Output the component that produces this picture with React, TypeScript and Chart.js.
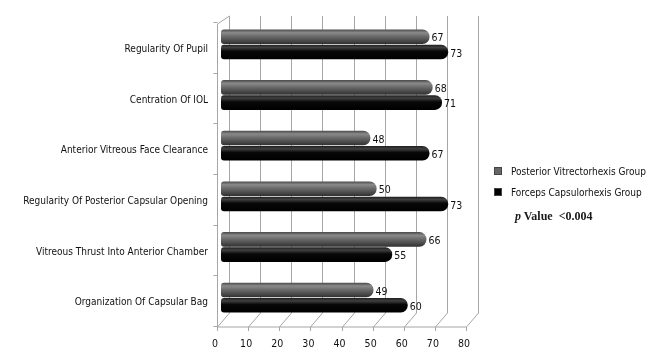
import React, { useEffect, useRef } from "react";
import { Chart, registerables } from "chart.js";

Chart.register(...registerables);

const categories = [
  "Regularity Of Pupil",
  "Centration Of IOL",
  "Anterior Vitreous Face Clearance",
  "Regularity Of Posterior Capsular Opening",
  "Vitreous Thrust Into Anterior Chamber",
  "Organization Of Capsular Bag",
];
const posteriorValues = [67, 68, 48, 50, 66, 49];
const forcepsValues = [73, 71, 67, 73, 55, 60];
const xTickValues = [0, 10, 20, 30, 40, 50, 60, 70, 80];
const seriesNames = ["Posterior Vitrectorhexis Group", "Forceps Capsulorhexis Group"];

const FONT = "'DejaVu Sans Condensed', 'Liberation Sans', sans-serif";
const CAT_PCT = 0.6;
const BAR_PCT = 0.96;

const graySt = [
  [0, "#4a4a4a"],
  [0.22, "#8a8a8a"],
  [0.45, "#6e6e6e"],
  [1, "#303030"],
];
const blackSt = [
  [0, "#1e1e1e"],
  [0.2, "#404040"],
  [0.45, "#080808"],
  [1, "#000000"],
];

function gradientFor(stops: any[], fallback: string) {
  return (ctx: any) => {
    const chart = ctx.chart;
    const ys = chart.scales && chart.scales.y;
    if (!ys || ctx.dataIndex == null || !chart.chartArea) return fallback;
    const center = ys.getPixelForValue(ctx.dataIndex);
    const band = Math.abs(ys.getPixelForValue(1) - ys.getPixelForValue(0));
    const cat = band * CAT_PCT;
    const size = (cat / 2) * BAR_PCT;
    const c = ctx.datasetIndex === 0 ? center - cat / 4 : center + cat / 4;
    const g = chart.ctx.createLinearGradient(0, c - size / 2, 0, c + size / 2);
    stops.forEach((s) => g.addColorStop(s[0], s[1]));
    return g;
  };
}

const wallPlugin = {
  id: "wall3d",
  beforeDatasetsDraw(chart: any) {
    const { ctx, chartArea } = chart;
    const xs = chart.scales.x;
    const backTop = chartArea.top - 3;
    const backBottom = chartArea.bottom - 10;
    const frontY = chartArea.bottom + 4;
    ctx.save();
    ctx.strokeStyle = "#a6a6a6";
    ctx.lineWidth = 1;
    xTickValues.forEach((v) => {
      const bx = Math.round(xs.getPixelForValue(v) + 8) + 0.5;
      const fx = bx - 12;
      ctx.beginPath();
      ctx.moveTo(bx, backTop);
      ctx.lineTo(bx, backBottom);
      ctx.lineTo(fx, frontY);
      ctx.lineTo(fx, frontY + 4);
      ctx.stroke();
    });
    const f0 = Math.round(xs.getPixelForValue(0) + 8) + 0.5 - 12;
    const f80 = Math.round(xs.getPixelForValue(80) + 8) + 0.5 - 12;
    ctx.beginPath();
    ctx.moveTo(f0, frontY);
    ctx.lineTo(f80, frontY);
    ctx.stroke();
    ctx.beginPath();
    ctx.moveTo(f0 + 12, backTop);
    ctx.lineTo(f0, chartArea.top + 5);
    ctx.lineTo(f0, frontY);
    ctx.stroke();
    const ys = chart.scales.y;
    const band = Math.abs(ys.getPixelForValue(1) - ys.getPixelForValue(0));
    for (let i = 0; i <= categories.length; i++) {
      const yy = Math.round(ys.getPixelForValue(0) - band / 2 + i * band + 3) + 0.5;
      ctx.beginPath();
      ctx.moveTo(f0 - 4, yy);
      ctx.lineTo(f0, yy);
      ctx.stroke();
    }
    ctx.restore();
  },
};

const labelPlugin = {
  id: "barLabels",
  afterDatasetsDraw(chart: any) {
    const { ctx } = chart;
    ctx.save();
    ctx.font = `10.5px ${FONT}`;
    ctx.fillStyle = "#111";
    ctx.textAlign = "left";
    ctx.textBaseline = "middle";
    chart.data.datasets.forEach((ds: any, di: number) => {
      const meta = chart.getDatasetMeta(di);
      meta.data.forEach((el: any, i: number) => {
        ctx.fillText(String(ds.data[i]), el.x + 2, el.y + 2);
      });
    });
    ctx.restore();
  },
};

export default function App() {
  const ref = useRef<HTMLCanvasElement | null>(null);
  useEffect(() => {
    if (!ref.current) return;
    const chart = new Chart(ref.current, {
      type: "bar",
      data: {
        labels: categories,
        datasets: [
          {
            label: seriesNames[0],
            data: posteriorValues,
            backgroundColor: gradientFor(graySt, "#666"),
            borderRadius: { topLeft: 3, bottomLeft: 3, topRight: 7, bottomRight: 7 },
            borderSkipped: false,
            categoryPercentage: CAT_PCT,
            barPercentage: BAR_PCT,
          },
          {
            label: seriesNames[1],
            data: forcepsValues,
            backgroundColor: gradientFor(blackSt, "#000"),
            borderRadius: { topLeft: 3, bottomLeft: 3, topRight: 7, bottomRight: 7 },
            borderSkipped: false,
            categoryPercentage: CAT_PCT,
            barPercentage: BAR_PCT,
          },
        ],
      },
      options: {
        indexAxis: "y",
        animation: false,
        responsive: false,
        layout: { padding: { left: 0, right: 185, top: 15, bottom: 0 } },
        plugins: { legend: { display: false }, tooltip: { enabled: false } },
        scales: {
          x: {
            min: 0,
            max: 80,
            afterFit: (s: any) => {
              s.height = 28;
            },
            afterBuildTicks: (s: any) => {
              s.ticks = xTickValues.map((v) => ({ value: v }));
            },
            grid: { display: false, drawTicks: false },
            border: { display: false },
            ticks: {
              padding: 15,
              labelOffset: -6,
              color: "#111",
              font: { family: FONT, size: 10.5 },
            },
          },
          y: {
            afterFit: (s: any) => {
              s.width = 221;
            },
            grid: { display: false, drawTicks: false },
            border: { display: false },
            ticks: {
              padding: 13,
              labelOffset: 5,
              color: "#111",
              font: { family: FONT, size: 10 },
            },
          },
        },
      },
      plugins: [wallPlugin, labelPlugin],
    });
    return () => chart.destroy();
  }, []);

  const legendText: React.CSSProperties = {
    position: "absolute",
    left: 511,
    fontFamily: FONT,
    fontSize: 10,
    color: "#111",
    lineHeight: "13px",
    whiteSpace: "nowrap",
  };
  const sq = (bg: string, top: number): React.CSSProperties => ({
    position: "absolute",
    left: 494,
    top,
    width: 8,
    height: 8,
    background: bg,
    border: "1px solid #444",
    boxSizing: "border-box",
  });

  return (
    <div style={{ position: "fixed", left: 0, top: 0, width: 655, height: 351, background: "#fff" }}>
      <canvas ref={ref} width={655} height={351} style={{ position: "absolute", left: 0, top: 0 }} />
      <div style={sq("#666666", 167)} />
      <div style={{ ...legendText, top: 165 }}>{seriesNames[0]}</div>
      <div style={sq("#000000", 188)} />
      <div style={{ ...legendText, top: 186 }}>{seriesNames[1]}</div>
      <div
        style={{
          position: "absolute",
          left: 515,
          top: 209,
          fontFamily: "'Liberation Serif', 'DejaVu Serif', serif",
          fontWeight: "bold",
          fontSize: 12,
          color: "#1a1a1a",
          whiteSpace: "pre",
        }}
      >
        <i>p</i>
        {" Value  <0.004"}
      </div>
    </div>
  );
}
